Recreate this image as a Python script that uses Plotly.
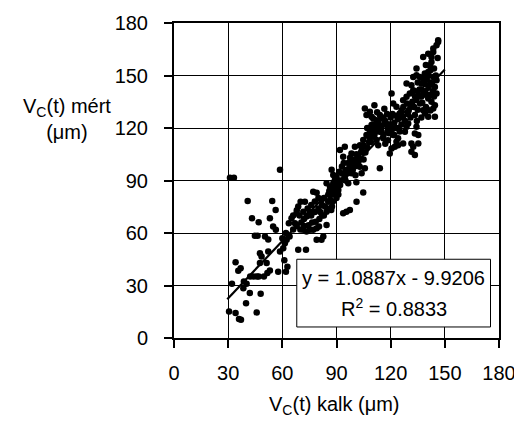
import plotly.graph_objects as go

kalk = [
    31.0, 33.2, 58.7, 40.8, 54.4, 56.3, 43.2, 46.9, 53.1, 54.9, 56.4, 44.8, 46.3, 50.4, 52.2,
    34.1, 36.9, 35.6, 32.1, 38.7, 40.2, 42.2, 44.1, 45.9, 46.9, 38.4, 42.0, 48.0, 39.9, 45.8,
    30.5, 34.1, 36.0, 37.1, 47.6, 51.3, 51.7, 49.8, 53.1, 57.7, 62.0, 62.8, 61.1, 47.6, 48.5,
    52.2, 58.7, 60.5, 61.4, 62.4, 68.8, 73.1,
    63.6, 65.1, 67.0, 67.9, 68.8, 70.1, 72.5, 71.6, 73.4, 75.3, 71.6, 73.4, 75.3, 77.1, 79.0,
    80.3, 79.0, 81.7, 82.7, 77.1, 79.0, 81.7, 84.5, 87.5, 87.1, 85.4, 83.6, 84.5, 93.7, 95.5,
    97.4, 101.1, 104.8,
    84.5, 86.4, 88.2, 89.1, 91.0, 92.0, 94.6, 96.5, 98.3, 99.3, 101.1, 102.9, 103.9, 105.7,
    87.3, 88.2, 91.9, 94.6, 98.3, 100.2, 103.0, 104.8, 93.7, 106.6, 108.5, 109.4, 110.3,
    112.2, 113.1, 114.0,
    105.7, 106.6, 108.5, 109.4, 110.3, 112.2, 114.0, 115.0, 116.8, 117.7, 118.6, 114.0, 115.9,
    120.5, 121.4, 123.2, 125.0, 126.0, 126.9, 121.4, 123.2, 124.1, 126.9, 128.8, 129.7, 127.9,
    119.5, 120.5, 122.3, 124.1, 131.5, 132.5, 133.4, 131.5,
    126.9, 128.8, 130.6, 132.5, 128.8, 131.5, 132.5, 134.3, 134.3, 136.2, 137.1, 138.9, 140.8,
    141.7, 142.6, 143.6, 145.4, 146.3, 146.3, 143.6, 138.0, 140.8, 142.6, 143.6, 145.4, 144.5,
    145.4, 140.8, 142.6, 143.6, 144.5, 140.8, 136.2, 138.0, 139.0, 133.4, 134.3, 135.3, 135.3,
    133.4,
    68.0, 69.5, 70.5, 72.0, 74.0, 76.0, 78.0, 80.0, 82.0, 83.0, 80.5, 76.5, 74.5, 78.5, 82.0,
    85.5, 86.5, 88.0, 90.0, 89.5,
    90.0, 91.5, 93.0, 95.0, 96.5, 97.5, 99.0, 100.5, 102.0, 103.5, 105.0, 101.0,
    107.0, 108.0, 110.0, 111.5, 113.0, 115.0, 116.0, 117.0, 118.5, 119.0, 120.0, 121.0, 122.0,
    123.0, 118.0, 116.5, 111.0, 112.5, 124.5, 126.0,
    129.5, 131.0, 132.0, 133.5, 135.0, 136.0, 137.0, 138.0, 139.0, 140.0, 141.0, 142.0, 137.5,
    135.0, 139.5, 141.5, 143.5, 144.0, 139.5,
    60.0, 62.0, 64.0, 66.0, 66.0, 68.0, 70.0, 72.0, 74.0, 76.0, 78.0, 80.0, 81.0, 83.0, 85.0,
    86.0, 88.0, 89.0, 90.0, 91.0,
    92.0, 93.0, 94.0, 95.0, 96.0, 97.0, 98.0, 99.0, 100.0, 101.0, 102.0, 103.0, 104.0, 105.0,
    106.0, 107.0, 108.0, 109.0, 110.0, 111.0,
    112.0, 113.0, 114.0, 115.0, 116.0, 117.0, 118.0, 119.0, 120.0, 121.0, 122.0, 123.0, 124.0,
    125.0, 126.0, 127.0, 128.0, 129.0, 130.0, 131.0,
    132.0, 133.0, 134.0, 135.0, 136.0, 137.0, 138.0, 139.0, 140.0, 141.0, 142.0, 143.0, 144.0,
    145.0, 146.0, 144.5, 142.0, 140.0, 137.0, 134.5,
]
mert = [
    91.6, 91.6, 96.1, 78.3, 78.3, 73.2, 68.4, 66.2, 68.4, 63.7, 61.8, 58.4, 58.4, 58.0, 56.3,
    43.3, 39.9, 38.4, 31.0, 32.3, 31.0, 35.2, 35.2, 35.2, 35.2, 28.5, 25.7, 25.3, 19.8, 14.6,
    15.2, 14.3, 10.8, 10.5, 42.8, 42.8, 37.1, 35.2, 38.6, 37.9, 37.9, 40.7, 44.5, 48.4, 46.6,
    49.4, 49.4, 51.3, 54.2, 56.1, 50.4, 50.4,
    65.6, 68.4, 65.6, 71.3, 75.1, 77.9, 77.9, 72.2, 69.4, 72.2, 61.8, 60.8, 61.8, 61.8, 62.7,
    63.7, 56.1, 56.1, 58.0, 83.6, 83.0, 78.9, 64.6, 75.1, 73.2, 77.9, 75.1, 72.2, 71.3, 72.2,
    73.2, 77.9, 83.1,
    88.4, 86.5, 88.4, 90.3, 84.6, 87.5, 92.2, 88.4, 94.1, 99.8, 101.7, 97.9, 94.1, 97.0,
    96.1, 93.1, 107.4, 109.3, 105.5, 109.3, 110.2, 113.1, 103.6, 116.0, 117.9, 121.7, 115.0,
    113.1, 110.2, 97.0,
    131.2, 127.4, 129.3, 126.4, 125.5, 124.5, 127.4, 125.5, 123.6, 121.7, 118.8, 117.9, 114.1,
    139.7, 134.0, 132.1, 128.3, 130.2, 126.4, 116.0, 112.2, 114.1, 111.2, 120.7, 122.6, 117.9,
    105.5, 108.3, 109.3, 110.2, 111.2, 109.3, 104.6, 106.5,
    135.9, 137.8, 139.7, 141.6, 145.4, 144.5, 149.2, 150.2, 154.0, 149.2, 145.4, 151.1, 152.0,
    155.8, 160.6, 163.5, 167.3, 169.2, 170.1, 165.4, 160.6, 162.5, 157.7, 149.2, 147.3, 143.5,
    139.7, 136.9, 135.0, 131.2, 126.4, 126.4, 134.0, 130.2, 128.3, 127.4, 120.7, 116.0, 111.2,
    116.9,
    73.0, 70.0, 66.0, 68.0, 74.0, 76.0, 72.0, 74.0, 76.0, 80.0, 68.0, 66.0, 64.5, 66.5, 70.0,
    82.0, 79.0, 82.0, 80.0, 86.0,
    92.0, 95.0, 98.0, 96.0, 100.0, 103.0, 96.0, 93.0, 104.0, 106.0, 102.0, 89.0,
    120.0, 112.0, 118.0, 121.0, 119.0, 121.5, 116.0, 111.0, 113.0, 122.0, 126.0, 119.5, 123.0,
    127.0, 128.0, 131.0, 133.0, 129.0, 120.0, 122.0,
    128.0, 132.0, 135.0, 138.0, 141.0, 138.0, 142.0, 139.0, 145.0, 148.0, 143.0, 146.0, 134.5,
    130.5, 132.0, 139.0, 141.0, 154.0, 156.0,
    57.0, 60.0, 58.0, 62.0, 70.0, 64.0, 62.0, 64.0, 70.0, 70.0, 78.0, 80.0, 72.0, 70.0, 74.0,
    84.0, 78.0, 84.0, 88.0, 82.0,
    90.0, 94.0, 100.0, 90.0, 94.0, 97.0, 100.0, 102.0, 98.0, 105.0, 100.0, 102.0, 108.0, 110.0,
    106.0, 109.0, 115.0, 112.0, 122.0, 116.0,
    118.0, 123.0, 120.0, 118.0, 126.0, 124.0, 122.0, 117.0, 122.0, 128.0, 116.0, 120.0, 125.0,
    118.0, 126.0, 132.0, 124.0, 134.0, 130.0, 126.0,
    140.0, 132.0, 136.0, 146.0, 142.0, 138.0, 148.0, 141.0, 139.0, 150.0, 153.0, 145.0, 138.0,
    150.0, 160.0, 133.0, 130.0, 131.0, 126.0, 124.0,
]

# linear trendline as printed on the chart
slope, intercept = 1.0887, -9.9206
r2 = 0.8833
trend_x = [29.5, 150.0]
trend_y = [slope * v + intercept for v in trend_x]

ticks = [0, 30, 60, 90, 120, 150, 180]
FONT = "Arial, Liberation Sans, sans-serif"

fig = go.Figure()
fig.add_scatter(x=kalk, y=mert, mode="markers", showlegend=False,
                marker=dict(size=6.5, color="black"))
fig.add_scatter(x=trend_x, y=trend_y, mode="lines", showlegend=False,
                line=dict(color="black", width=2.2))

# equation box
fig.add_shape(type="rect", xref="x", yref="y", x0=68, x1=175.3, y0=6.3, y1=45,
              line=dict(color="black", width=1), fillcolor="white", layer="above")
fig.add_annotation(xref="x", yref="y", x=121.6, y=34.2, showarrow=False,
                   text=f"y = {slope}x - {abs(intercept)}", font=dict(size=20))
fig.add_annotation(xref="x", yref="y", x=121.6, y=17.3, showarrow=False,
                   text=f"R<sup>2</sup> = {r2}", font=dict(size=20))

# axis titles
fig.add_annotation(xref="paper", yref="paper", x=-0.33, y=0.695, showarrow=False,
                   xanchor="center", yanchor="middle",
                   text="V<sub>C</sub>(t) mért<br>(μm)", font=dict(size=20))
fig.add_annotation(xref="paper", yref="paper", x=0.495, y=-0.215, showarrow=False,
                   xanchor="center", yanchor="middle",
                   text="V<sub>C</sub>(t) kalk (μm)", font=dict(size=20))

axis = dict(range=[0, 180], tickvals=ticks, showgrid=True, gridcolor="black",
            gridwidth=1, zeroline=False, showline=True, linecolor="black",
            linewidth=2, mirror=True, ticks="outside", ticklen=8, tickwidth=2,
            tickcolor="black", tickfont=dict(size=20), automargin=False)
fig.update_xaxes(ticklabelstandoff=8, **axis)
fig.update_yaxes(ticklabelstandoff=12, **axis)
# the page body adds an 8px offset, so the figure is shrunk by that much
fig.update_layout(width=514, height=415, plot_bgcolor="white", paper_bgcolor="white",
                  font=dict(family=FONT, color="black"),
                  margin=dict(l=166, r=23, t=15, b=85))
fig.write_html("out.html")
